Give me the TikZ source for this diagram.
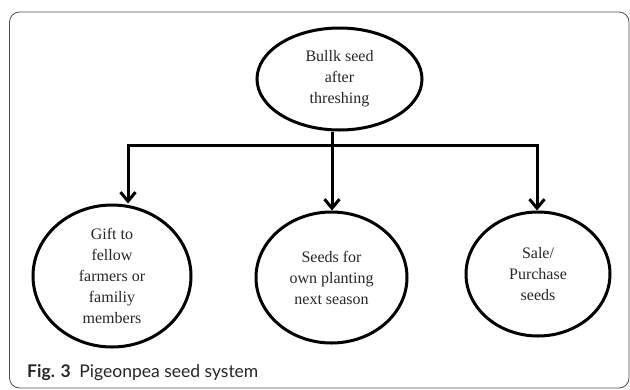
\documentclass[tikz,border=0pt]{standalone}
\usepackage{fontspec}
\newfontfamily\bubblefont{Liberation Serif}
\newfontfamily\capfont{Lato}
\usetikzlibrary{arrows.meta,shapes.geometric}
\begin{document}
\begin{tikzpicture}[x=1pt,y=-1pt,
  bubble/.style={ellipse,draw,line width=3pt,inner sep=0pt,align=center,
    font=\bubblefont\fontsize{16}{21}\selectfont,text=black!85},
  link/.style={line width=3pt},
  arr/.style={line width=3pt,-{Straight Barb[length=9pt,width=15pt]}}]
\useasboundingbox (0,0) rectangle (630,389);
\draw[line width=0.8pt,black!70,rounded corners=10pt] (9.5,12) rectangle (629,388);
\node[bubble,minimum width=165pt,minimum height=102pt] (bulk) at (339.5,79) {Bullk seed\\after\\threshing};
\node[bubble,minimum width=158pt,minimum height=142pt] (gift) at (112,276) {Gift to\\fellow\\farmers or\\familiy\\members};
\node[bubble,minimum width=151pt,minimum height=131pt] (own) at (331.5,277.5) {Seeds for\\own planting\\next season};
\node[bubble,minimum width=144pt,minimum height=124pt] (sale) at (538,274) {Sale/\\Purchase\\seeds};
\coordinate (bl) at (128,145);
\coordinate (bm) at (332,145);
\coordinate (br) at (537,145);
\draw[link] (bulk.south -| bm) -- (bm);
\draw[link,line cap=rect] (bl) -- (br);
\draw[arr] (bl) -- (bl |- gift.north);
\draw[arr] (bm) -- (bm |- own.north);
\draw[arr] (br) -- (br |- sale.north);
\node[anchor=base west,inner sep=0pt,text=black!85,font=\capfont\fontsize{17.5}{20}\selectfont] (cap) at (27,377) {\textbf{Fig. 3}\enspace Pigeonpea seed system};
\end{tikzpicture}
\end{document}
